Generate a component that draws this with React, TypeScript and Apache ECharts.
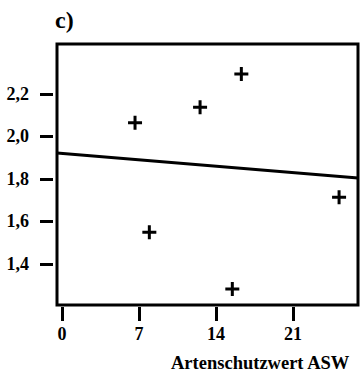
import React, { useEffect, useRef } from "react";
import * as echarts from "echarts";

const xValues = [6.64, 12.55, 16.3, 7.94, 15.48, 25.18];
const yValues = [2.065, 2.137, 2.294, 1.549, 1.282, 1.714];
const xTicks = [0, 7, 14, 21];
const yTicks = [1.4, 1.6, 1.8, 2.0, 2.2];
const fitLineX = [-0.45, 26.9];
const fitLineY = [1.922, 1.805];
const panelLabel = "c)";
const xTitle = "Artenschutzwert ASW";

const FONT = "'Liberation Serif', 'Times New Roman', serif";
const PLUS = "path://M5.5,0h3v5.5h5.5v3h-5.5v5.5h-3v-5.5h-5.5v-3h5.5z";

export default function App() {
  const ref = useRef<HTMLDivElement>(null);
  useEffect(() => {
    if (!ref.current) return;
    const chart = echarts.init(ref.current, undefined, { renderer: "svg" });
    chart.setOption({
      animation: false,
      backgroundColor: "#ffffff",
      grid: {
        left: 57,
        top: 44,
        right: 4,
        bottom: 74,
        show: true,
        borderColor: "#000",
        borderWidth: 3,
        backgroundColor: "transparent",
      },
      xAxis: {
        type: "value",
        min: fitLineX[0],
        max: fitLineX[1],
        offset: 2,
        splitLine: { show: false },
        axisLine: { show: false, onZero: false },
        axisTick: {
          show: true,
          inside: false,
          length: 14,
          customValues: xTicks,
          lineStyle: { color: "#000", width: 3 },
        },
        axisLabel: {
          customValues: xTicks,
          margin: 18,
          color: "#000",
          fontFamily: FONT,
          fontWeight: "bold",
          fontSize: 18,
        },
      },
      yAxis: {
        type: "value",
        min: 1.207,
        max: 2.435,
        offset: 4,
        splitLine: { show: false },
        axisLine: { show: false, onZero: false },
        axisTick: {
          show: true,
          inside: false,
          length: 13,
          customValues: yTicks,
          lineStyle: { color: "#000", width: 3 },
        },
        axisLabel: {
          customValues: yTicks,
          margin: 24,
          color: "#000",
          fontFamily: FONT,
          fontWeight: "bold",
          fontSize: 18,
          formatter: (v: number) => v.toFixed(1).replace(".", ","),
        },
      },
      series: [
        {
          type: "scatter",
          data: xValues.map((x, i) => [x, yValues[i]]),
          symbol: PLUS,
          symbolSize: 14,
          itemStyle: { color: "#000", opacity: 1 },
          z: 3,
        },
        {
          type: "line",
          data: fitLineX.map((x, i) => [x, fitLineY[i]]),
          symbol: "none",
          lineStyle: { color: "#000", width: 3 },
          z: 2,
        },
      ],
      graphic: [
        {
          type: "text",
          left: 55,
          top: 8,
          style: {
            text: panelLabel,
            font: `bold 24px ${FONT}`,
            fill: "#000",
          },
        },
        {
          type: "text",
          left: 171,
          top: 353,
          style: {
            text: xTitle,
            font: `bold 18.5px ${FONT}`,
            fill: "#000",
          },
        },
      ],
    });
    return () => chart.dispose();
  }, []);
  return (
    <div
      ref={ref}
      style={{ position: "fixed", left: 0, top: 0, width: 362, height: 379 }}
    />
  );
}
